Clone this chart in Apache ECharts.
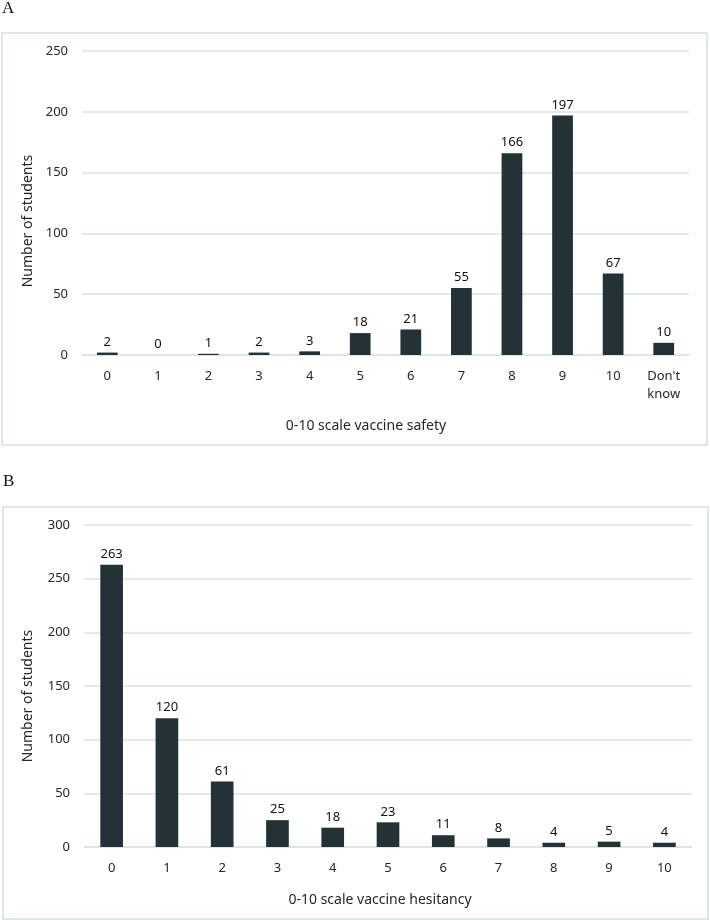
<!DOCTYPE html>
<html><head><meta charset="utf-8">
<script src="https://cdn.jsdelivr.net/npm/echarts@6/dist/echarts.min.js"></script>
<style>html,body{margin:0;padding:0;background:#fff}#c{width:710px;height:920px}</style>
</head><body><div id="c"></div>
<script>
const catsA = ['0','1','2','3','4','5','6','7','8','9','10',"Don't\nknow"];
const valsA = [2,0,1,2,3,18,21,55,166,197,67,10];
const ticksA = [0,50,100,150,200,250];
const catsB = ['0','1','2','3','4','5','6','7','8','9','10'];
const valsB = [263,120,61,25,18,23,11,8,4,5,4];
const ticksB = [0,50,100,150,200,250,300];
const titleA = '0-10 scale vaccine safety';
const titleB = '0-10 scale vaccine hesitancy';
const yTitle = 'Number of students';

const FONT = '"Noto Sans", "Open Sans", sans-serif';
const TXT = '#262626';
const BAR = '#233335';
const GRID = '#d9e3e3';

const chart = echarts.init(document.getElementById('c'), null, {renderer:'canvas'});
function xAx(idx, cats){
  return {gridIndex: idx, type:'category', data: cats,
    axisLine:{show:true, lineStyle:{color:GRID, width:1.5}}, axisTick:{show:false},
    axisLabel:{color:TXT, fontFamily:FONT, fontSize:13, margin:12, lineHeight:18, interval:0}};
}
function yAx(idx, ticks){
  return {gridIndex: idx, type:'value', min:ticks[0], max:ticks[ticks.length-1], interval:50,
    axisLine:{show:false}, axisTick:{show:false},
    splitLine:{lineStyle:{color:GRID, width:1.5}},
    axisLabel:{color:TXT, fontFamily:FONT, fontSize:13, margin:14}};
}
function ser(idx, vals){
  return {type:'bar', xAxisIndex:idx, yAxisIndex:idx, data:vals, barWidth:'41%',
    itemStyle:{color:BAR},
    label:{show:true, position:'top', distance:4, color:'#111', fontFamily:FONT, fontSize:13}};
}
chart.setOption({
  animation:false,
  grid:[
    {left:82, right:21, top:51, height:304},
    {left:84, right:18, top:525, height:322}
  ],
  xAxis:[xAx(0,catsA), xAx(1,catsB)],
  yAxis:[yAx(0,ticksA), yAx(1,ticksB)],
  series:[ser(0,valsA), ser(1,valsB)],
  graphic:[
    {type:'rect', shape:{x:2, y:33, width:705, height:412}, style:{fill:'none', stroke:'#d6dfdf', lineWidth:1.5}, silent:true},
    {type:'rect', shape:{x:3, y:507, width:705, height:412}, style:{fill:'none', stroke:'#d6dfdf', lineWidth:1.5}, silent:true},
    {type:'text', left:2, top:0, style:{text:'A', font:'17px "Liberation Serif", serif', fill:'#111'}},
    {type:'text', left:3, top:473, style:{text:'B', font:'17px "Liberation Serif", serif', fill:'#111'}},
    {type:'text', x:366, y:426, style:{text:titleA, font:'14px '+FONT, fill:TXT, align:'center', verticalAlign:'middle'}},
    {type:'text', x:380, y:900, style:{text:titleB, font:'14px '+FONT, fill:TXT, align:'center', verticalAlign:'middle'}},
    {type:'text', x:28, y:221, rotation:Math.PI/2, style:{text:yTitle, font:'14px '+FONT, fill:TXT, align:'center', verticalAlign:'middle'}},
    {type:'text', x:28, y:696, rotation:Math.PI/2, style:{text:yTitle, font:'14px '+FONT, fill:TXT, align:'center', verticalAlign:'middle'}}
  ]
});
</script></body></html>
